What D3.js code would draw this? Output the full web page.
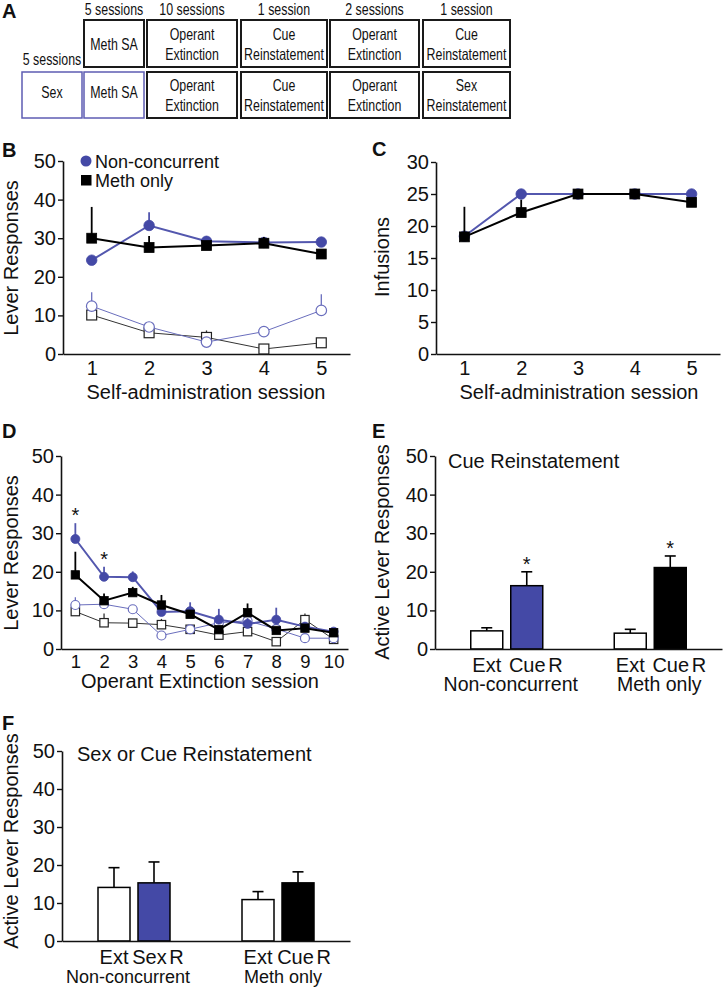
<html>
<head>
<meta charset="utf-8">
<script src="https://d3js.org/d3.v7.min.js"></script>
<style>
  body { margin: 0; background: #fff; }
  svg text { font-family: "Liberation Sans", Arial, Helvetica, sans-serif; fill: #111; }
</style>
</head>
<body>
<script>
// ---- panel A: schedule ----
var schedHeaders = ["5 sessions", "10 sessions", "1 session", "2 sessions", "1 session"];
var schedRow1 = ["Meth SA", "Operant\nExtinction", "Cue\nReinstatement", "Operant\nExtinction", "Cue\nReinstatement"];
var schedRow2 = ["Sex", "Meth SA", "Operant\nExtinction", "Cue\nReinstatement", "Operant\nExtinction", "Sex\nReinstatement"];
var schedSexLabel = "5 sessions";

// ---- panels B/C: self-administration ----
var saSessions = [1, 2, 3, 4, 5];
var saActiveNC = [24.3, 33.3, 29.2, 28.9, 29.0];
var saActiveNCErr = [0, 3.4, 1.3, 0.4, 0.4];
var saActiveMeth = [30.0, 27.6, 28.1, 28.7, 25.9];
var saActiveMethErr = [8.1, 3.0, 0.5, 1.6, 0.4];
var saInactiveNC = [12.4, 7.0, 3.1, 5.8, 11.3];
var saInactiveNCErr = [3.6, 0.6, 0.3, 0.3, 4.2];
var saInactiveMeth = [10.1, 5.5, 4.3, 1.3, 2.9];
var saInactiveMethErr = [0.4, 0.4, 1.8, 0.3, 0.3];

var infNC = [18.4, 25, 25, 25, 25];
var infNCErr = [0, 0, 0, 0, 0];
var infMeth = [18.3, 22.1, 25, 25, 23.7];
var infMethErr = [4.7, 2.0, 0, 0, 0];

// ---- panel D: extinction ----
var extSessions = [1, 2, 3, 4, 5, 6, 7, 8, 9, 10];
var extActiveNC = [28.5, 18.7, 18.6, 9.6, 9.8, 7.6, 6.5, 7.6, 5.8, 4.5];
var extActiveNCErr = [4.1, 2.6, 1.5, 1.5, 2.3, 2.8, 1.5, 3.1, 0.6, 0.4];
var extActiveMeth = [19.2, 12.5, 14.6, 11.4, 9.0, 5.0, 9.4, 4.8, 5.4, 4.2];
var extActiveMethErr = [6.0, 1.9, 1.5, 2.6, 1.0, 0.8, 2.4, 0.5, 0.8, 0.3];
var extInactiveNC = [11.4, 11.6, 10.3, 3.5, 5.1, 6.8, 7.3, 5.2, 2.8, 2.8];
var extInactiveNCErr = [2.0, 0.5, 1.1, 0.3, 0.3, 0.5, 0.5, 0.5, 0.3, 0.3];
var extInactiveMeth = [9.7, 6.8, 6.7, 6.3, 5.1, 3.6, 4.5, 1.9, 7.6, 2.5];
var extInactiveMethErr = [0.5, 2.4, 0.4, 1.5, 0.4, 0.3, 0.4, 0.3, 1.6, 0.3];
var extStars = [1, 2];

// ---- panels E/F: reinstatement ----
var groups = ["Non-concurrent", "Meth only"];
var cueConds = [["Ext", "Cue R"], ["Ext", "Cue R"]];
var cueValues = [[4.7, 16.4], [4.1, 21.1]];
var cueErr = [[0.8, 3.6], [1.0, 3.0]];
var cueStars = [[false, true], [false, true]];

var sexConds = [["Ext", "Sex R"], ["Ext", "Cue R"]];
var sexValues = [[14.1, 15.3], [10.9, 15.3]];
var sexErr = [[5.2, 5.5], [2.1, 2.9]];

var BLUE = "#4449a6", BLUE_LINE = "#5357ae", BLUE_THIN = "#6a6ebd";

var svg = d3.select("body").append("svg")
    .attr("width", 723).attr("height", 988);

function letter(t, x, y) {
    svg.append("text").attr("x", x).attr("y", y).text(t)
        .style("font-size", "20px").style("font-weight", "bold");
}

/* panel A */
letter("A", 2, 18);
var colEdges1 = [[84, 144], [147, 237], [241, 327], [330, 419], [423, 510]];
var colEdges2 = [[22, 82]].concat(colEdges1);

// condensed text: no narrow face installed, so squeeze horizontally
function narrow(g, t, cx, y) {
    g.append("text").attr("transform", "translate(" + cx + "," + y + ") scale(0.75,1)")
        .attr("text-anchor", "middle").style("font-size", "16.5px").text(t);
}
function boxText(g, label, cx, cy) {
    var lines = label.split("\n");
    lines.forEach(function (l, i) {
        narrow(g, l, cx, cy + 6 - (lines.length - 1) * 10 + i * 20);
    });
}
var gA = svg.append("g");
schedHeaders.forEach(function (h, i) {
    narrow(gA, h, (colEdges1[i][0] + colEdges1[i][1]) / 2, 15);
});
narrow(gA, schedSexLabel, 52, 65);
schedRow1.forEach(function (t, i) {
    var e = colEdges1[i];
    gA.append("rect").attr("x", e[0]).attr("y", 20).attr("width", e[1] - e[0]).attr("height", 47)
        .attr("fill", "none").attr("stroke", "#1a1a1a").attr("stroke-width", 2);
    boxText(gA, t, (e[0] + e[1]) / 2, 43.5);
});
schedRow2.forEach(function (t, i) {
    var e = colEdges2[i];
    var purple = i < 2;
    gA.append("rect").attr("x", e[0]).attr("y", 72).attr("width", e[1] - e[0]).attr("height", 46)
        .attr("fill", "none").attr("stroke", purple ? "#5e5cb3" : "#1a1a1a")
        .attr("stroke-width", purple ? 1.5 : 2);
    boxText(gA, t, (e[0] + e[1]) / 2, purple ? 92 : 95);
});

/* shared axis styling */
function styleAxis(sel, fs) {
    sel.attr("font-family", null).attr("font-size", null);
    sel.selectAll("text").style("font-size", fs + "px");
    sel.select(".domain").attr("stroke", "#111").attr("stroke-width", 1.6);
    sel.selectAll(".tick line").attr("stroke", "#111").attr("stroke-width", 1.4);
}

function yLabel(t, cx, cy) {
    svg.append("text").attr("transform", "translate(" + cx + "," + cy + ") rotate(-90)")
        .attr("text-anchor", "middle").attr("dy", "0.35em").style("font-size", "20px").text(t);
}

function linePanel(c) {
    var g = svg.append("g");
    var x = d3.scaleLinear().domain([0.5, c.sessions.length + 0.5]).range([c.x0, c.x1]);
    var y = d3.scaleLinear().domain([0, c.ymax]).range([c.y0, c.y1]);
    g.append("g").attr("transform", "translate(0," + c.y0 + ")")
        .call(d3.axisBottom(x).tickValues(c.sessions).tickFormat(d3.format("d"))
            .tickSize(0).tickPadding(c.xpad).tickSizeOuter(0))
        .call(styleAxis, c.xfs);
    g.append("g").attr("transform", "translate(" + c.x0 + ",0)")
        .call(d3.axisLeft(y).tickValues(d3.range(0, c.ymax + 1, c.ystep)).tickSize(5).tickPadding(2).tickSizeOuter(0))
        .call(styleAxis, 20);

    c.series.forEach(function (s) {
        var pts = s.values.map(function (v, i) { return { x: c.sessions[i], v: v, e: s.err[i] }; });
        g.append("path").datum(pts)
            .attr("d", d3.line().x(function (d) { return x(d.x); }).y(function (d) { return y(d.v); }))
            .attr("fill", "none").attr("stroke", s.line).attr("stroke-width", s.lw);
        g.selectAll(null).data(pts.filter(function (d) { return d.e > 0; })).enter().append("line")
            .attr("x1", function (d) { return x(d.x); }).attr("x2", function (d) { return x(d.x); })
            .attr("y1", function (d) { return y(d.v); }).attr("y2", function (d) { return y(d.v + d.e); })
            .attr("stroke", s.line).attr("stroke-width", s.lw < 1.5 ? 1.3 : 1.8);
        var fill = s.open ? "#fff" : s.color;
        if (s.shape === "circle") {
            g.selectAll(null).data(pts).enter().append("circle")
                .attr("cx", function (d) { return x(d.x); }).attr("cy", function (d) { return y(d.v); })
                .attr("r", c.size / 2).attr("fill", fill).attr("stroke", s.color).attr("stroke-width", s.open ? 1.2 : 0.8);
        } else {
            var h = c.size / 2 - 0.3;
            g.selectAll(null).data(pts).enter().append("rect")
                .attr("x", function (d) { return x(d.x) - h; }).attr("y", function (d) { return y(d.v) - h; })
                .attr("width", 2 * h).attr("height", 2 * h)
                .attr("fill", fill).attr("stroke", s.color).attr("stroke-width", s.open ? 1.2 : 0.8);
        }
        if (s.stars) {
            s.stars.forEach(function (k) {
                var i = c.sessions.indexOf(k);
                g.append("text").attr("x", x(k)).attr("y", y(s.values[i] + s.err[i]) - 1)
                    .attr("text-anchor", "middle").style("font-size", "20px").text("*");
            });
        }
    });
    svg.append("text").attr("x", c.titleX).attr("y", c.y0 + c.titleDy)
        .attr("text-anchor", "middle").style("font-size", "20px").text(c.title);
    return { g: g, x: x, y: y };
}

function series4(aNC, aNCe, aM, aMe, iNC, iNCe, iM, iMe, stars) {
    return [
        { values: iM, err: iMe, color: "#222", line: "#333", lw: 1, shape: "rect", open: true },
        { values: iNC, err: iNCe, color: BLUE_THIN, line: BLUE_THIN, lw: 1, shape: "circle", open: true },
        { values: aNC, err: aNCe, color: BLUE, line: BLUE_LINE, lw: 2, shape: "circle", open: false, stars: stars },
        { values: aM, err: aMe, color: "#000", line: "#000", lw: 2, shape: "rect", open: false }
    ];
}

/* panel B */
letter("B", 2, 157);
linePanel({
    sessions: saSessions, x0: 63, x1: 350, y0: 354, y1: 161, ymax: 50, ystep: 10, xfs: 20, xpad: 7, size: 10.5,
    title: "Self-administration session", titleX: 206, titleDy: 45,
    series: series4(saActiveNC, saActiveNCErr, saActiveMeth, saActiveMethErr,
        saInactiveNC, saInactiveNCErr, saInactiveMeth, saInactiveMethErr, null)
});
yLabel("Lever Responses", 11, 258);
svg.append("circle").attr("cx", 86).attr("cy", 161).attr("r", 5.5).attr("fill", BLUE);
svg.append("text").attr("x", 95).attr("y", 168).style("font-size", "18px").text("Non-concurrent");
svg.append("rect").attr("x", 81).attr("y", 175).attr("width", 10.5).attr("height", 10.5).attr("fill", "#000");
svg.append("text").attr("x", 95).attr("y", 187).style("font-size", "18px").text("Meth only");

/* panel C */
letter("C", 372, 156);
linePanel({
    sessions: saSessions, x0: 436, x1: 720, y0: 354, y1: 162, ymax: 30, ystep: 5, xfs: 20, xpad: 7, size: 10.5,
    title: "Self-administration session", titleX: 579, titleDy: 45,
    series: [
        { values: infNC, err: infNCErr, color: BLUE, line: BLUE_LINE, lw: 2, shape: "circle", open: false },
        { values: infMeth, err: infMethErr, color: "#000", line: "#000", lw: 2, shape: "rect", open: false }
    ]
});
yLabel("Infusions", 382, 257);

/* panel D */
letter("D", 2, 438);
linePanel({
    sessions: extSessions, x0: 61, x1: 348, y0: 649, y1: 456, ymax: 50, ystep: 10, xfs: 18.5, xpad: 6, size: 9,
    title: "Operant Extinction session", titleX: 200, titleDy: 39,
    series: series4(extActiveNC, extActiveNCErr, extActiveMeth, extActiveMethErr,
        extInactiveNC, extInactiveNCErr, extInactiveMeth, extInactiveMethErr, extStars)
});
yLabel("Lever Responses", 11, 553);

/* bar panels */
function barPanel(c) {
    var g = svg.append("g");
    var outer = d3.scaleBand().domain(groups).range([c.x0, c.x1]).padding(0);
    var inner = d3.scaleBand().domain([0, 1]).range([-36, 36]).paddingInner(0.2).paddingOuter(0);
    var y = d3.scaleLinear().domain([0, 50]).range([c.y0, c.y1]);
    var fills = [["#fff", BLUE], ["#fff", "#000"]];

    groups.forEach(function (gr, gi) {
        var cx = outer(gr) + outer.bandwidth() / 2;
        c.values[gi].forEach(function (v, k) {
            var bx = cx + inner(k), bw = inner.bandwidth(), top = y(v + c.err[gi][k]);
            g.append("line").attr("x1", bx + bw / 2).attr("x2", bx + bw / 2)
                .attr("y1", y(v)).attr("y2", top).attr("stroke", "#000").attr("stroke-width", 1.6);
            g.append("line").attr("x1", bx + bw / 2 - 5.5).attr("x2", bx + bw / 2 + 5.5)
                .attr("y1", top).attr("y2", top).attr("stroke", "#000").attr("stroke-width", 1.6);
            g.append("rect").attr("x", bx).attr("y", y(v)).attr("width", bw).attr("height", y(0) - y(v))
                .attr("fill", fills[gi][k]).attr("stroke", "#000").attr("stroke-width", 1.5);
            g.append("text").attr("x", bx + bw / 2 + (k ? c.condDx[gi] : 0)).attr("y", c.y0 + 23)
                .attr("text-anchor", "middle").style("font-size", "20px").style("word-spacing", "-3px")
                .text(c.conds[gi][k]);
            if (c.stars && c.stars[gi][k]) {
                g.append("text").attr("x", bx + bw / 2).attr("y", top - 1).attr("text-anchor", "middle")
                    .style("font-size", "20px").text("*");
            }
        });
        g.append("text").attr("x", cx + c.groupDx[gi]).attr("y", c.y0 + 42).attr("text-anchor", "middle")
            .style("font-size", c.gfs + "px").text(gr);
    });

    g.append("g").attr("transform", "translate(0," + c.y0 + ")")
        .call(d3.axisBottom(outer).tickSize(0).tickFormat("").tickSizeOuter(0))
        .call(styleAxis, 20);
    g.append("g").attr("transform", "translate(" + c.x0 + ",0)")
        .call(d3.axisLeft(y).tickValues(d3.range(0, 51, 10)).tickSize(5).tickPadding(2).tickSizeOuter(0))
        .call(styleAxis, 20);
    g.append("text").attr("x", c.x0 + c.titleDx).attr("y", c.y1 + c.titleDy)
        .style("font-size", "20px").text(c.title);
}

letter("E", 372, 438);
barPanel({
    x0: 435, x1: 722, y0: 649, y1: 456, conds: cueConds, values: cueValues, err: cueErr, stars: cueStars,
    title: "Cue Reinstatement", titleDx: 13, titleDy: 12, gfs: 19.5, condDx: [9, 9], groupDx: [4, 9]
});
yLabel("Active Lever Responses", 382, 552);

letter("F", 2, 730);
barPanel({
    x0: 62, x1: 350, y0: 941, y1: 751, conds: sexConds, values: sexValues, err: sexErr, stars: null,
    title: "Sex or Cue Reinstatement", titleDx: 15, titleDy: 10, gfs: 18, condDx: [4, 6], groupDx: [-6, 5]
});
yLabel("Active Lever Responses", 11, 841);
</script>
</body>
</html>
